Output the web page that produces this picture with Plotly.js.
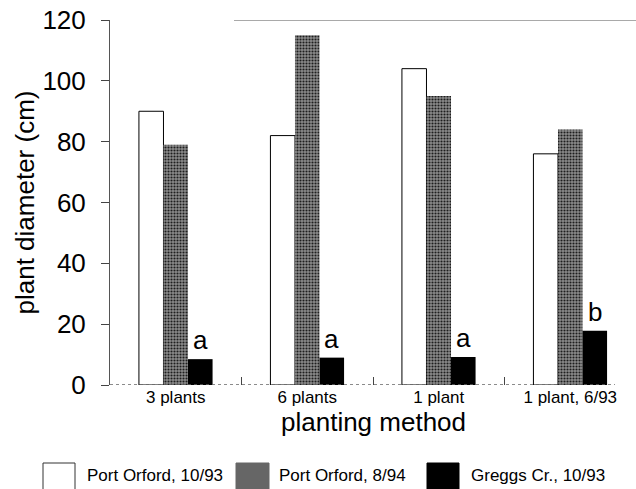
<!DOCTYPE html>
<html>
<head>
<meta charset="utf-8">
<script src="https://cdn.plot.ly/plotly-3.0.1.min.js"></script>
<style>html,body{margin:0;padding:0;background:#fff;}#chart{width:636px;height:489px;}</style>
</head>
<body>
<div id="chart"></div>
<script>
// ---- data ----
var categories = ["3 plants", "6 plants", "1 plant", "1 plant, 6/93"];
var seriesNames = ["Port Orford, 10/93", "Port Orford, 8/94", "Greggs Cr., 10/93"];
var portOrford1093 = [90, 82, 104, 76];
var portOrford894 = [79, 115, 95, 84];
var greggs1093 = [8.5, 9, 9.2, 17.8];
var letters = ["a", "a", "a", "b"];
var yTicks = [0, 20, 40, 60, 80, 100, 120];
var xTitle = "planting method";
var yTitle = "plant diameter (cm)";

// ---- layout helpers ----
var W = 636, H = 489;
var M = {l: 110, r: 0, t: 20, b: 104};
var plotW = W - M.l - M.r, plotH = H - M.t - M.b;
function px2paperX(px) { return (px - M.l) / plotW; }
function px2paperY(py) { return (H - M.b - py) / plotH; }
var FONT = "Liberation Sans, Arial, sans-serif";
var bargap = 0.44;
var grayFill = {shape: ".", bgcolor: "#8c8c8c", fgcolor: "#1e1e1e", size: 3, solidity: 0.4};

var traces = [
  {type: "bar", name: seriesNames[0], x: categories, y: portOrford1093,
   marker: {color: "#ffffff", line: {color: "#000", width: 1}}},
  {type: "bar", name: seriesNames[1], x: categories, y: portOrford894,
   marker: {color: "#6e6e6e", pattern: grayFill, line: {width: 0}}},
  {type: "bar", name: seriesNames[2], x: categories, y: greggs1093,
   marker: {color: "#000000", line: {width: 0}}}
];

var annotations = [];
var groupW = 1 - bargap;
letters.forEach(function (t, i) {
  annotations.push({x: i + groupW / 3, y: greggs1093[i], xref: "x", yref: "y",
    text: t, showarrow: false, yanchor: "bottom", yshift: 2,
    font: {family: FONT, size: 26, color: "#000"}});
});
// x-axis title placed as text just under the tick labels
annotations.push({xref: "paper", yref: "paper", x: 0.5, y: px2paperY(405),
  xanchor: "center", yanchor: "top", showarrow: false, text: xTitle,
  font: {family: FONT, size: 26, color: "#000"}});

// manual legend
var legendBoxes = [[43, 75], [236, 269], [427, 459]];
var legendTextX = [85, 277, 469];
var legendFills = ["#ffffff", "#666666", "#000000"];
var shapes = [];
legendBoxes.forEach(function (b, i) {
  shapes.push({type: "rect", xref: "paper", yref: "paper",
    x0: px2paperX(b[0]), x1: px2paperX(b[1]), y0: px2paperY(463), y1: px2paperY(490),
    fillcolor: legendFills[i], line: {color: i === 0 ? "#333" : legendFills[i], width: 1}});
  annotations.push({xref: "paper", yref: "paper", x: px2paperX(legendTextX[i]), y: px2paperY(475),
    xanchor: "left", yanchor: "middle", showarrow: false, text: seriesNames[i],
    font: {family: FONT, size: 17, color: "#000"}});
});
// baseline and partial top frame line
shapes.push({type: "line", xref: "paper", yref: "y", x0: 0, x1: 0.96, y0: 0, y1: 0,
  line: {color: "#666", width: 1.5, dash: "dot"}});
shapes.push({type: "line", xref: "paper", yref: "y", x0: px2paperX(234), x1: 1, y0: 120, y1: 120,
  line: {color: "#555", width: 1}});

var layout = {
  width: W, height: H,
  margin: M,
  paper_bgcolor: "#fff", plot_bgcolor: "#fff",
  font: {family: FONT, color: "#000"},
  showlegend: false,
  barmode: "group", bargap: bargap, bargroupgap: 0,
  xaxis: {
    type: "category", range: [-0.5, 3.5], showgrid: false, zeroline: false, showline: false,
    ticks: "inside", tickson: "boundaries", ticklen: 8, tickcolor: "#444",
    tickfont: {family: FONT, size: 17, color: "#000"}
  },
  yaxis: {
    range: [0, 120], tickvals: yTicks, showgrid: false, zeroline: false,
    showline: true, linecolor: "#555", linewidth: 1,
    ticks: "outside", ticklen: 8, tickcolor: "#444", ticklabelstandoff: 10,
    tickfont: {family: FONT, size: 26, color: "#000"},
    title: {text: yTitle, font: {family: FONT, size: 26, color: "#000"}, standoff: 0}
  },
  yaxis2: {
    overlaying: "y", side: "left", anchor: "x", range: [0, 120], tickvals: yTicks,
    showgrid: false, zeroline: false, showline: false, showticklabels: false,
    ticks: "inside", ticklen: 8, tickcolor: "#444"
  },
  annotations: annotations,
  shapes: shapes
};

Plotly.newPlot("chart", traces, layout, {staticPlot: true, displayModeBar: false});
</script>
</body>
</html>
